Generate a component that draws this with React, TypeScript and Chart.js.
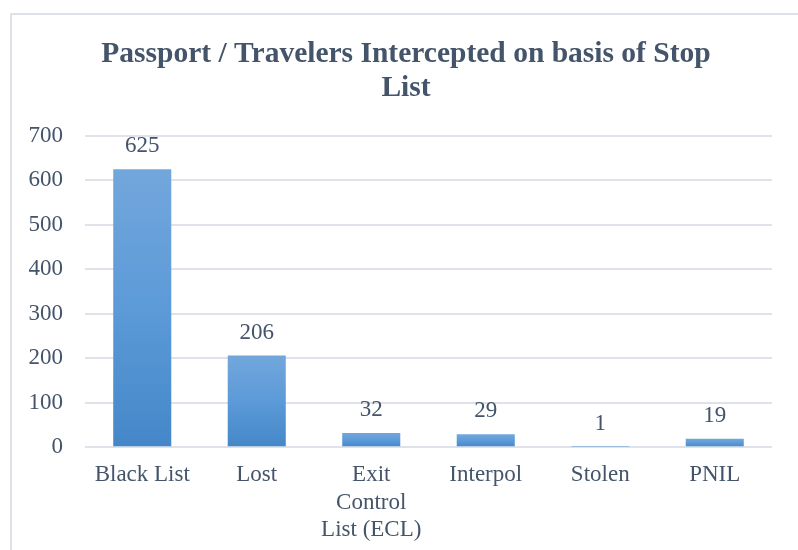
import React, { useEffect, useRef } from "react";
import { Chart, registerables } from "chart.js";

Chart.register(...registerables);

const titleLines = ["Passport / Travelers Intercepted on basis of Stop", "List"];
const categories: (string | string[])[] = [
  "Black List",
  "Lost",
  ["Exit", "Control", "List (ECL)"],
  "Interpol",
  "Stolen",
  "PNIL",
];
const values = [625, 206, 32, 29, 1, 19];
const yMin = 0;
const yMax = 700;
const yStep = 100;

const FONT = '"Liberation Serif", "Times New Roman", Times, serif';
const TEXT = "#44546A";
const GRID = "#DFE3E9";

export default function App() {
  const ref = useRef<HTMLCanvasElement | null>(null);

  useEffect(() => {
    const canvas = ref.current;
    if (!canvas) return;

    const framePlugin = {
      id: "frame",
      afterLayout(chart: any) {
        const tb = chart.titleBlock;
        if (tb) {
          tb.left = 40;
          tb.width = tb.right - tb.left;
        }
      },
      beforeDraw(chart: any) {
        const c = chart.ctx;
        c.save();
        c.fillStyle = "#ffffff";
        c.fillRect(0, 0, chart.width, chart.height);
        c.strokeStyle = "#DDE2E9";
        c.lineWidth = 2;
        c.beginPath();
        c.moveTo(11, chart.height);
        c.lineTo(11, 14);
        c.lineTo(chart.width, 14);
        c.stroke();
        c.restore();
      },
    };

    const labelPlugin = {
      id: "valueLabels",
      afterDatasetsDraw(chart: any) {
        const c = chart.ctx;
        const meta = chart.getDatasetMeta(0);
        c.save();
        c.font = `23px ${FONT}`;
        c.fillStyle = TEXT;
        c.textAlign = "center";
        c.textBaseline = "alphabetic";
        meta.data.forEach((bar: any, i: number) => {
          c.fillText(String(values[i]), bar.x, bar.y - 17);
        });
        c.restore();
      },
    };

    const chart = new Chart(canvas, {
      type: "bar",
      data: {
        labels: categories,
        datasets: [
          {
            data: values,
            backgroundColor: (ctx: any) => {
              const ch = ctx.chart;
              if (!ch.chartArea || ctx.type !== "data") return "#5B9BD5";
              const ys = ch.scales.y;
              const top = ys.getPixelForValue(ctx.raw);
              const base = ys.getPixelForValue(0);
              if (!isFinite(top) || base - top < 1) return "#5B9BD5";
              const g = ch.ctx.createLinearGradient(0, top, 0, base);
              g.addColorStop(0, "#72A7DC");
              g.addColorStop(0.5, "#5C9AD8");
              g.addColorStop(1, "#4487C8");
              return g;
            },
            borderWidth: 0,
            categoryPercentage: 1,
            barPercentage: 0.507,
          },
        ],
      },
      options: {
        responsive: false,
        animation: false,
        layout: { padding: { top: 15, right: 26, bottom: -8, left: 0 } },
        plugins: {
          legend: { display: false },
          tooltip: { enabled: false },
          title: {
            display: true,
            text: titleLines,
            color: TEXT,
            font: { family: FONT, size: 29.5, weight: "bold", lineHeight: 1.15 },
            padding: { top: 22, bottom: 31 },
          },
        },
        scales: {
          x: {
            grid: { display: false, drawTicks: false },
            border: { display: false },
            ticks: {
              color: TEXT,
              font: { family: FONT, size: 23, lineHeight: 1.2 },
              padding: 14,
              maxRotation: 0,
              autoSkip: false,
            },
          },
          y: {
            min: yMin,
            max: yMax,
            afterFit: (scale: any) => {
              scale.width = 85;
            },
            grid: { color: GRID, lineWidth: 2, drawTicks: false },
            border: { display: false },
            ticks: {
              stepSize: yStep,
              color: TEXT,
              font: { family: FONT, size: 23 },
              padding: 22,
            },
          },
        },
      },
      plugins: [framePlugin, labelPlugin],
    });

    return () => chart.destroy();
  }, []);

  return (
    <div style={{ position: "absolute", left: 0, top: 0, width: 798, height: 550 }}>
      <canvas ref={ref} width={798} height={550} style={{ display: "block" }} />
    </div>
  );
}
